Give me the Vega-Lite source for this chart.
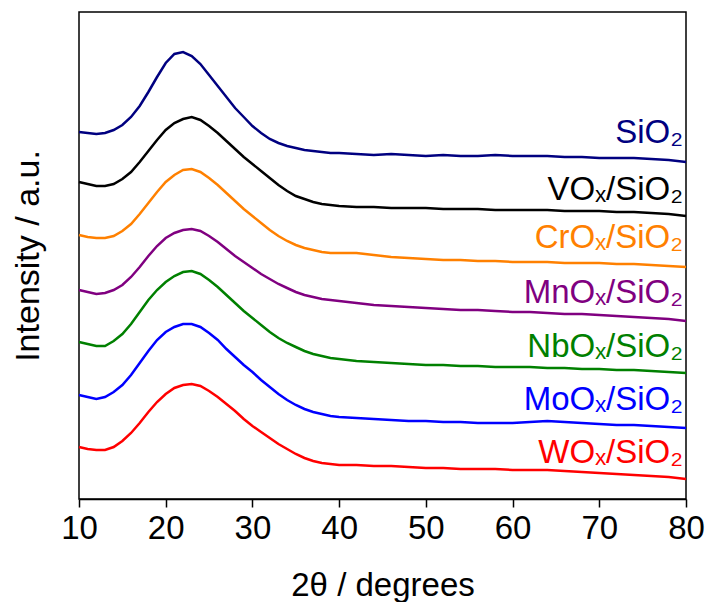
{
"$schema": "https://vega.github.io/schema/vega-lite/v6.json",
"width": 607, "height": 487,
"autosize": "none",
"padding": {"left": 79, "top": 12, "right": 21, "bottom": 103},
"config": {"view": {"stroke": "black", "strokeWidth": 1.5}, "font": "Liberation Sans", "axis": {"grid": false}},
"datasets": {
"xrd": [
{"sample":"SiO2","angle":10,"intensity":367},{"sample":"SiO2","angle":11,"intensity":366},{"sample":"SiO2","angle":12,"intensity":365},{"sample":"SiO2","angle":13,"intensity":366},{"sample":"SiO2","angle":14,"intensity":369},{"sample":"SiO2","angle":15,"intensity":374},{"sample":"SiO2","angle":16,"intensity":382},{"sample":"SiO2","angle":17,"intensity":393},{"sample":"SiO2","angle":18,"intensity":407},{"sample":"SiO2","angle":19,"intensity":422},{"sample":"SiO2","angle":20,"intensity":436},{"sample":"SiO2","angle":21,"intensity":445},{"sample":"SiO2","angle":22,"intensity":447},{"sample":"SiO2","angle":23,"intensity":443},{"sample":"SiO2","angle":24,"intensity":435},{"sample":"SiO2","angle":25,"intensity":424},{"sample":"SiO2","angle":26,"intensity":413},{"sample":"SiO2","angle":27,"intensity":402},{"sample":"SiO2","angle":28,"intensity":391},{"sample":"SiO2","angle":29,"intensity":382},{"sample":"SiO2","angle":30,"intensity":373},{"sample":"SiO2","angle":31,"intensity":366},{"sample":"SiO2","angle":32,"intensity":360},{"sample":"SiO2","angle":33,"intensity":356},{"sample":"SiO2","angle":34,"intensity":353},{"sample":"SiO2","angle":35,"intensity":351},{"sample":"SiO2","angle":36,"intensity":349},{"sample":"SiO2","angle":37,"intensity":348},{"sample":"SiO2","angle":38,"intensity":347},{"sample":"SiO2","angle":39,"intensity":346},{"sample":"SiO2","angle":40,"intensity":346},{"sample":"SiO2","angle":42,"intensity":345},{"sample":"SiO2","angle":44,"intensity":344},{"sample":"SiO2","angle":46,"intensity":345},{"sample":"SiO2","angle":48,"intensity":344},{"sample":"SiO2","angle":50,"intensity":343},{"sample":"SiO2","angle":52,"intensity":344},{"sample":"SiO2","angle":54,"intensity":343},{"sample":"SiO2","angle":56,"intensity":343},{"sample":"SiO2","angle":58,"intensity":344},{"sample":"SiO2","angle":60,"intensity":343},{"sample":"SiO2","angle":62,"intensity":343},{"sample":"SiO2","angle":64,"intensity":343},{"sample":"SiO2","angle":66,"intensity":342},{"sample":"SiO2","angle":68,"intensity":342},{"sample":"SiO2","angle":70,"intensity":341},{"sample":"SiO2","angle":72,"intensity":341},{"sample":"SiO2","angle":74,"intensity":341},{"sample":"SiO2","angle":76,"intensity":340},{"sample":"SiO2","angle":78,"intensity":339},{"sample":"SiO2","angle":80,"intensity":337},
{"sample":"VOx","angle":10,"intensity":317},{"sample":"VOx","angle":11,"intensity":315},{"sample":"VOx","angle":12,"intensity":313},{"sample":"VOx","angle":13,"intensity":313},{"sample":"VOx","angle":14,"intensity":315},{"sample":"VOx","angle":15,"intensity":320},{"sample":"VOx","angle":16,"intensity":327},{"sample":"VOx","angle":17,"intensity":337},{"sample":"VOx","angle":18,"intensity":348},{"sample":"VOx","angle":19,"intensity":359},{"sample":"VOx","angle":20,"intensity":369},{"sample":"VOx","angle":21,"intensity":376},{"sample":"VOx","angle":22,"intensity":380},{"sample":"VOx","angle":23,"intensity":382},{"sample":"VOx","angle":24,"intensity":379},{"sample":"VOx","angle":25,"intensity":373},{"sample":"VOx","angle":26,"intensity":366},{"sample":"VOx","angle":27,"intensity":358},{"sample":"VOx","angle":28,"intensity":350},{"sample":"VOx","angle":29,"intensity":342},{"sample":"VOx","angle":30,"intensity":335},{"sample":"VOx","angle":31,"intensity":328},{"sample":"VOx","angle":32,"intensity":321},{"sample":"VOx","angle":33,"intensity":314},{"sample":"VOx","angle":34,"intensity":308},{"sample":"VOx","angle":35,"intensity":303},{"sample":"VOx","angle":36,"intensity":300},{"sample":"VOx","angle":37,"intensity":297},{"sample":"VOx","angle":38,"intensity":295},{"sample":"VOx","angle":39,"intensity":294},{"sample":"VOx","angle":40,"intensity":293},{"sample":"VOx","angle":42,"intensity":292},{"sample":"VOx","angle":44,"intensity":292},{"sample":"VOx","angle":46,"intensity":291},{"sample":"VOx","angle":48,"intensity":291},{"sample":"VOx","angle":50,"intensity":291},{"sample":"VOx","angle":52,"intensity":290},{"sample":"VOx","angle":54,"intensity":290},{"sample":"VOx","angle":56,"intensity":290},{"sample":"VOx","angle":58,"intensity":289},{"sample":"VOx","angle":60,"intensity":289},{"sample":"VOx","angle":62,"intensity":289},{"sample":"VOx","angle":64,"intensity":289},{"sample":"VOx","angle":66,"intensity":288},{"sample":"VOx","angle":68,"intensity":288},{"sample":"VOx","angle":70,"intensity":288},{"sample":"VOx","angle":72,"intensity":287},{"sample":"VOx","angle":74,"intensity":287},{"sample":"VOx","angle":76,"intensity":286},{"sample":"VOx","angle":78,"intensity":285},{"sample":"VOx","angle":80,"intensity":283},
{"sample":"CrOx","angle":10,"intensity":264},{"sample":"CrOx","angle":11,"intensity":262},{"sample":"CrOx","angle":12,"intensity":261},{"sample":"CrOx","angle":13,"intensity":261},{"sample":"CrOx","angle":14,"intensity":263},{"sample":"CrOx","angle":15,"intensity":268},{"sample":"CrOx","angle":16,"intensity":275},{"sample":"CrOx","angle":17,"intensity":285},{"sample":"CrOx","angle":18,"intensity":296},{"sample":"CrOx","angle":19,"intensity":307},{"sample":"CrOx","angle":20,"intensity":317},{"sample":"CrOx","angle":21,"intensity":324},{"sample":"CrOx","angle":22,"intensity":329},{"sample":"CrOx","angle":23,"intensity":330},{"sample":"CrOx","angle":24,"intensity":327},{"sample":"CrOx","angle":25,"intensity":321},{"sample":"CrOx","angle":26,"intensity":314},{"sample":"CrOx","angle":27,"intensity":306},{"sample":"CrOx","angle":28,"intensity":298},{"sample":"CrOx","angle":29,"intensity":290},{"sample":"CrOx","angle":30,"intensity":283},{"sample":"CrOx","angle":31,"intensity":276},{"sample":"CrOx","angle":32,"intensity":269},{"sample":"CrOx","angle":33,"intensity":263},{"sample":"CrOx","angle":34,"intensity":258},{"sample":"CrOx","angle":35,"intensity":254},{"sample":"CrOx","angle":36,"intensity":251},{"sample":"CrOx","angle":37,"intensity":249},{"sample":"CrOx","angle":38,"intensity":247},{"sample":"CrOx","angle":39,"intensity":246},{"sample":"CrOx","angle":40,"intensity":246},{"sample":"CrOx","angle":42,"intensity":246},{"sample":"CrOx","angle":44,"intensity":244},{"sample":"CrOx","angle":46,"intensity":242},{"sample":"CrOx","angle":48,"intensity":241},{"sample":"CrOx","angle":50,"intensity":240},{"sample":"CrOx","angle":52,"intensity":239},{"sample":"CrOx","angle":54,"intensity":239},{"sample":"CrOx","angle":56,"intensity":238},{"sample":"CrOx","angle":58,"intensity":238},{"sample":"CrOx","angle":60,"intensity":237},{"sample":"CrOx","angle":62,"intensity":237},{"sample":"CrOx","angle":64,"intensity":237},{"sample":"CrOx","angle":66,"intensity":236},{"sample":"CrOx","angle":68,"intensity":236},{"sample":"CrOx","angle":70,"intensity":236},{"sample":"CrOx","angle":72,"intensity":235},{"sample":"CrOx","angle":74,"intensity":235},{"sample":"CrOx","angle":76,"intensity":234},{"sample":"CrOx","angle":78,"intensity":233},{"sample":"CrOx","angle":80,"intensity":232},
{"sample":"MnOx","angle":10,"intensity":209},{"sample":"MnOx","angle":11,"intensity":207},{"sample":"MnOx","angle":12,"intensity":205},{"sample":"MnOx","angle":13,"intensity":206},{"sample":"MnOx","angle":14,"intensity":209},{"sample":"MnOx","angle":15,"intensity":214},{"sample":"MnOx","angle":16,"intensity":222},{"sample":"MnOx","angle":17,"intensity":232},{"sample":"MnOx","angle":18,"intensity":243},{"sample":"MnOx","angle":19,"intensity":253},{"sample":"MnOx","angle":20,"intensity":261},{"sample":"MnOx","angle":21,"intensity":266},{"sample":"MnOx","angle":22,"intensity":269},{"sample":"MnOx","angle":23,"intensity":270},{"sample":"MnOx","angle":24,"intensity":268},{"sample":"MnOx","angle":25,"intensity":263},{"sample":"MnOx","angle":26,"intensity":257},{"sample":"MnOx","angle":27,"intensity":250},{"sample":"MnOx","angle":28,"intensity":243},{"sample":"MnOx","angle":29,"intensity":237},{"sample":"MnOx","angle":30,"intensity":231},{"sample":"MnOx","angle":31,"intensity":225},{"sample":"MnOx","angle":32,"intensity":220},{"sample":"MnOx","angle":33,"intensity":215},{"sample":"MnOx","angle":34,"intensity":211},{"sample":"MnOx","angle":35,"intensity":207},{"sample":"MnOx","angle":36,"intensity":204},{"sample":"MnOx","angle":37,"intensity":202},{"sample":"MnOx","angle":38,"intensity":200},{"sample":"MnOx","angle":39,"intensity":199},{"sample":"MnOx","angle":40,"intensity":198},{"sample":"MnOx","angle":42,"intensity":196},{"sample":"MnOx","angle":44,"intensity":194},{"sample":"MnOx","angle":46,"intensity":193},{"sample":"MnOx","angle":48,"intensity":192},{"sample":"MnOx","angle":50,"intensity":191},{"sample":"MnOx","angle":52,"intensity":190},{"sample":"MnOx","angle":54,"intensity":189},{"sample":"MnOx","angle":56,"intensity":189},{"sample":"MnOx","angle":58,"intensity":188},{"sample":"MnOx","angle":60,"intensity":187},{"sample":"MnOx","angle":62,"intensity":187},{"sample":"MnOx","angle":64,"intensity":186},{"sample":"MnOx","angle":66,"intensity":185},{"sample":"MnOx","angle":68,"intensity":185},{"sample":"MnOx","angle":70,"intensity":184},{"sample":"MnOx","angle":72,"intensity":183},{"sample":"MnOx","angle":74,"intensity":182},{"sample":"MnOx","angle":76,"intensity":181},{"sample":"MnOx","angle":78,"intensity":180},{"sample":"MnOx","angle":80,"intensity":178},
{"sample":"NbOx","angle":10,"intensity":157},{"sample":"NbOx","angle":11,"intensity":155},{"sample":"NbOx","angle":12,"intensity":153},{"sample":"NbOx","angle":13,"intensity":153},{"sample":"NbOx","angle":14,"intensity":158},{"sample":"NbOx","angle":15,"intensity":165},{"sample":"NbOx","angle":16,"intensity":175},{"sample":"NbOx","angle":17,"intensity":187},{"sample":"NbOx","angle":18,"intensity":199},{"sample":"NbOx","angle":19,"intensity":209},{"sample":"NbOx","angle":20,"intensity":217},{"sample":"NbOx","angle":21,"intensity":223},{"sample":"NbOx","angle":22,"intensity":227},{"sample":"NbOx","angle":23,"intensity":228},{"sample":"NbOx","angle":24,"intensity":225},{"sample":"NbOx","angle":25,"intensity":219},{"sample":"NbOx","angle":26,"intensity":212},{"sample":"NbOx","angle":27,"intensity":204},{"sample":"NbOx","angle":28,"intensity":196},{"sample":"NbOx","angle":29,"intensity":188},{"sample":"NbOx","angle":30,"intensity":181},{"sample":"NbOx","angle":31,"intensity":174},{"sample":"NbOx","angle":32,"intensity":167},{"sample":"NbOx","angle":33,"intensity":161},{"sample":"NbOx","angle":34,"intensity":156},{"sample":"NbOx","angle":35,"intensity":152},{"sample":"NbOx","angle":36,"intensity":148},{"sample":"NbOx","angle":37,"intensity":145},{"sample":"NbOx","angle":38,"intensity":143},{"sample":"NbOx","angle":39,"intensity":141},{"sample":"NbOx","angle":40,"intensity":140},{"sample":"NbOx","angle":42,"intensity":138},{"sample":"NbOx","angle":44,"intensity":137},{"sample":"NbOx","angle":46,"intensity":136},{"sample":"NbOx","angle":48,"intensity":135},{"sample":"NbOx","angle":50,"intensity":134},{"sample":"NbOx","angle":52,"intensity":134},{"sample":"NbOx","angle":54,"intensity":133},{"sample":"NbOx","angle":56,"intensity":133},{"sample":"NbOx","angle":58,"intensity":132},{"sample":"NbOx","angle":60,"intensity":132},{"sample":"NbOx","angle":62,"intensity":132},{"sample":"NbOx","angle":64,"intensity":131},{"sample":"NbOx","angle":66,"intensity":131},{"sample":"NbOx","angle":68,"intensity":130},{"sample":"NbOx","angle":70,"intensity":130},{"sample":"NbOx","angle":72,"intensity":129},{"sample":"NbOx","angle":74,"intensity":129},{"sample":"NbOx","angle":76,"intensity":128},{"sample":"NbOx","angle":78,"intensity":127},{"sample":"NbOx","angle":80,"intensity":126},
{"sample":"MoOx","angle":10,"intensity":104},{"sample":"MoOx","angle":11,"intensity":102},{"sample":"MoOx","angle":12,"intensity":100},{"sample":"MoOx","angle":13,"intensity":102},{"sample":"MoOx","angle":14,"intensity":107},{"sample":"MoOx","angle":15,"intensity":114},{"sample":"MoOx","angle":16,"intensity":124},{"sample":"MoOx","angle":17,"intensity":136},{"sample":"MoOx","angle":18,"intensity":148},{"sample":"MoOx","angle":19,"intensity":159},{"sample":"MoOx","angle":20,"intensity":167},{"sample":"MoOx","angle":21,"intensity":172},{"sample":"MoOx","angle":22,"intensity":175},{"sample":"MoOx","angle":23,"intensity":175},{"sample":"MoOx","angle":24,"intensity":172},{"sample":"MoOx","angle":25,"intensity":166},{"sample":"MoOx","angle":26,"intensity":159},{"sample":"MoOx","angle":27,"intensity":150},{"sample":"MoOx","angle":28,"intensity":142},{"sample":"MoOx","angle":29,"intensity":134},{"sample":"MoOx","angle":30,"intensity":127},{"sample":"MoOx","angle":31,"intensity":119},{"sample":"MoOx","angle":32,"intensity":112},{"sample":"MoOx","angle":33,"intensity":105},{"sample":"MoOx","angle":34,"intensity":99},{"sample":"MoOx","angle":35,"intensity":94},{"sample":"MoOx","angle":36,"intensity":90},{"sample":"MoOx","angle":37,"intensity":87},{"sample":"MoOx","angle":38,"intensity":85},{"sample":"MoOx","angle":39,"intensity":83},{"sample":"MoOx","angle":40,"intensity":82},{"sample":"MoOx","angle":42,"intensity":81},{"sample":"MoOx","angle":44,"intensity":80},{"sample":"MoOx","angle":46,"intensity":79},{"sample":"MoOx","angle":48,"intensity":78},{"sample":"MoOx","angle":50,"intensity":78},{"sample":"MoOx","angle":52,"intensity":77},{"sample":"MoOx","angle":54,"intensity":77},{"sample":"MoOx","angle":56,"intensity":76},{"sample":"MoOx","angle":58,"intensity":76},{"sample":"MoOx","angle":60,"intensity":76},{"sample":"MoOx","angle":62,"intensity":77},{"sample":"MoOx","angle":64,"intensity":78},{"sample":"MoOx","angle":66,"intensity":77},{"sample":"MoOx","angle":68,"intensity":76},{"sample":"MoOx","angle":70,"intensity":75},{"sample":"MoOx","angle":72,"intensity":74},{"sample":"MoOx","angle":74,"intensity":74},{"sample":"MoOx","angle":76,"intensity":73},{"sample":"MoOx","angle":78,"intensity":72},{"sample":"MoOx","angle":80,"intensity":71},
{"sample":"WOx","angle":10,"intensity":52},{"sample":"WOx","angle":11,"intensity":50},{"sample":"WOx","angle":12,"intensity":49},{"sample":"WOx","angle":13,"intensity":49},{"sample":"WOx","angle":14,"intensity":52},{"sample":"WOx","angle":15,"intensity":58},{"sample":"WOx","angle":16,"intensity":66},{"sample":"WOx","angle":17,"intensity":76},{"sample":"WOx","angle":18,"intensity":87},{"sample":"WOx","angle":19,"intensity":97},{"sample":"WOx","angle":20,"intensity":105},{"sample":"WOx","angle":21,"intensity":111},{"sample":"WOx","angle":22,"intensity":114},{"sample":"WOx","angle":23,"intensity":115},{"sample":"WOx","angle":24,"intensity":113},{"sample":"WOx","angle":25,"intensity":108},{"sample":"WOx","angle":26,"intensity":102},{"sample":"WOx","angle":27,"intensity":95},{"sample":"WOx","angle":28,"intensity":88},{"sample":"WOx","angle":29,"intensity":80},{"sample":"WOx","angle":30,"intensity":73},{"sample":"WOx","angle":31,"intensity":67},{"sample":"WOx","angle":32,"intensity":61},{"sample":"WOx","angle":33,"intensity":55},{"sample":"WOx","angle":34,"intensity":50},{"sample":"WOx","angle":35,"intensity":45},{"sample":"WOx","angle":36,"intensity":41},{"sample":"WOx","angle":37,"intensity":38},{"sample":"WOx","angle":38,"intensity":36},{"sample":"WOx","angle":39,"intensity":35},{"sample":"WOx","angle":40,"intensity":34},{"sample":"WOx","angle":42,"intensity":34},{"sample":"WOx","angle":44,"intensity":33},{"sample":"WOx","angle":46,"intensity":33},{"sample":"WOx","angle":48,"intensity":32},{"sample":"WOx","angle":50,"intensity":31},{"sample":"WOx","angle":52,"intensity":31},{"sample":"WOx","angle":54,"intensity":30},{"sample":"WOx","angle":56,"intensity":30},{"sample":"WOx","angle":58,"intensity":30},{"sample":"WOx","angle":60,"intensity":29},{"sample":"WOx","angle":62,"intensity":29},{"sample":"WOx","angle":64,"intensity":29},{"sample":"WOx","angle":66,"intensity":28},{"sample":"WOx","angle":68,"intensity":27},{"sample":"WOx","angle":70,"intensity":26},{"sample":"WOx","angle":72,"intensity":25},{"sample":"WOx","angle":74,"intensity":24},{"sample":"WOx","angle":76,"intensity":23},{"sample":"WOx","angle":78,"intensity":22},{"sample":"WOx","angle":80,"intensity":20}
],
"labels": [
{"sample":"SiO2","label":"SiO₂","angle":80,"intensity":356},
{"sample":"VOx","label":"VOₓ/SiO₂","angle":80,"intensity":299},
{"sample":"CrOx","label":"CrOₓ/SiO₂","angle":80,"intensity":251},
{"sample":"MnOx","label":"MnOₓ/SiO₂","angle":80,"intensity":196},
{"sample":"NbOx","label":"NbOₓ/SiO₂","angle":80,"intensity":142},
{"sample":"MoOx","label":"MoOₓ/SiO₂","angle":80,"intensity":89},
{"sample":"WOx","label":"WOₓ/SiO₂","angle":80,"intensity":36}
]
},
"layer": [
{
"data": {"name": "xrd"},
"mark": {"type": "line", "strokeWidth": 2.5},
"encoding": {
"x": {"field": "angle", "type": "quantitative", "scale": {"domain": [10, 80], "nice": false},
"axis": {"values": [10,20,30,40,50,60,70,80], "title": "2θ / degrees", "titleFontSize": 33, "titleFontWeight": "normal", "titleColor": "black", "titlePadding": 24, "labelFontSize": 33, "labelColor": "black", "labelPadding": 5, "tickSize": 8, "tickWidth": 1.5, "tickColor": "black", "domainColor": "black", "domainWidth": 1.5, "labelFlush": false, "labelOverlap": false}},
"y": {"field": "intensity", "type": "quantitative", "scale": {"domain": [0, 487], "nice": false},
"axis": {"title": "Intensity / a.u.", "titleFontSize": 34, "titleFontWeight": "normal", "titleColor": "black", "titlePadding": 34, "labels": false, "ticks": false, "domain": false}},
"color": {"field": "sample", "type": "nominal", "scale": {"domain": ["SiO2","VOx","CrOx","MnOx","NbOx","MoOx","WOx"], "range": ["#000080","#000000","#FF8000","#800080","#008000","#0000FF","#FF0000"]}, "legend": null}
}
},
{
"data": {"name": "labels"},
"mark": {"type": "text", "align": "right", "baseline": "alphabetic", "fontSize": 33, "dx": -3},
"encoding": {
"x": {"field": "angle", "type": "quantitative"},
"y": {"field": "intensity", "type": "quantitative"},
"text": {"field": "label"},
"color": {"field": "sample", "type": "nominal", "legend": null}
}
}
]
}
